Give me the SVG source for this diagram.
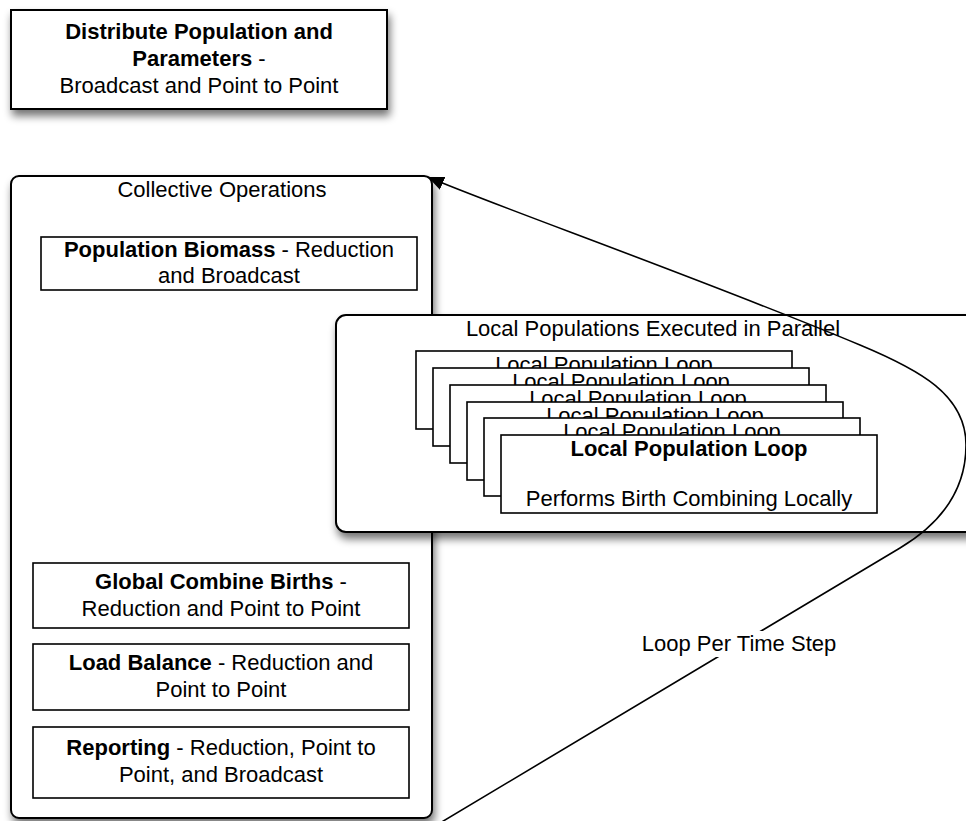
<svg xmlns="http://www.w3.org/2000/svg" width="966" height="821" viewBox="0 0 966 821">
  <style>
    text { font-family: "Liberation Sans", Arial, Helvetica, sans-serif; font-size: 22px; fill: #000; text-anchor: middle; }
    .b { font-weight: bold; }
    .box { fill: #fff; stroke: #000; stroke-width: 1.6; }
    .frame { fill: #fff; stroke: #000; stroke-width: 2; }
    .card { fill: #fff; stroke: #000; stroke-width: 1.6; }
    .link { fill: none; stroke: #000; stroke-width: 1.6; }
  </style>
  <defs>
    <filter id="shadow" x="-10%" y="-10%" width="125%" height="130%">
      <feGaussianBlur in="SourceAlpha" stdDeviation="4"/>
      <feOffset dx="2" dy="6" result="blur"/>
      <feComponentTransfer><feFuncA type="linear" slope="0.55"/></feComponentTransfer>
      <feMerge><feMergeNode/><feMergeNode in="SourceGraphic"/></feMerge>
    </filter>
    <marker id="arrow" markerUnits="userSpaceOnUse" markerWidth="20" markerHeight="16" refX="16" refY="7" orient="auto">
      <path d="M0,0 L16,7 L0,14 z" fill="#000"/>
    </marker>
  </defs>

  <!-- distribution step -->
  <g id="distribute">
    <rect class="frame" x="11" y="10" width="376" height="99" filter="url(#shadow)"/>
    <text x="199" y="39" class="b">Distribute Population and</text>
    <text x="199" y="66"><tspan class="b">Parameters</tspan> -</text>
    <text x="199" y="93">Broadcast and Point to Point</text>
  </g>

  <!-- collective operations container -->
  <g id="collective">
    <rect class="frame" x="11" y="176" width="421" height="642" rx="8" filter="url(#shadow)"/>
    <text x="222" y="197">Collective Operations</text>
  </g>

  <g id="biomass">
    <rect class="box" x="41" y="237" width="376" height="53"/>
    <text x="229" y="257"><tspan class="b">Population Biomass</tspan> - Reduction</text>
    <text x="229" y="283">and Broadcast</text>
  </g>

  <g id="combine-births">
    <rect class="box" x="33" y="563" width="376" height="65"/>
    <text x="221" y="589"><tspan class="b">Global Combine Births</tspan> -</text>
    <text x="221" y="616">Reduction and Point to Point</text>
  </g>

  <g id="load-balance">
    <rect class="box" x="33" y="644" width="376" height="66"/>
    <text x="221" y="670"><tspan class="b">Load Balance</tspan> - Reduction and</text>
    <text x="221" y="697">Point to Point</text>
  </g>

  <g id="reporting">
    <rect class="box" x="33" y="727" width="376" height="71"/>
    <text x="221" y="755"><tspan class="b">Reporting</tspan> - Reduction, Point to</text>
    <text x="221" y="782">Point, and Broadcast</text>
  </g>

  <!-- parallel local populations container -->
  <g id="local-populations">
    <rect class="frame" x="336" y="315" width="650" height="217" rx="10" filter="url(#shadow)"/>
    <text x="653" y="336">Local Populations Executed in Parallel</text>
  </g>

  <!-- stacked local population loops, back to front -->
  <g id="loop-1">
    <rect class="card" x="416" y="351" width="376" height="78"/>
    <text x="604" y="372">Local Population Loop</text>
  </g>
  <g id="loop-2">
    <rect class="card" x="433" y="368" width="376" height="78"/>
    <text x="621" y="389">Local Population Loop</text>
  </g>
  <g id="loop-3">
    <rect class="card" x="450" y="385" width="376" height="78"/>
    <text x="638" y="406">Local Population Loop</text>
  </g>
  <g id="loop-4">
    <rect class="card" x="467" y="402" width="376" height="78"/>
    <text x="655" y="423">Local Population Loop</text>
  </g>
  <g id="loop-5">
    <rect class="card" x="484" y="418" width="376" height="78"/>
    <text x="672" y="439">Local Population Loop</text>
  </g>
  <g id="loop-6">
    <rect class="card" x="501" y="435" width="376" height="78"/>
    <text x="689" y="456" class="b">Local Population Loop</text>
    <text x="689" y="506">Performs Birth Combining Locally</text>
  </g>

  <!-- time step loop connector -->
  <g id="connectors">
    <path class="link" marker-end="url(#arrow)"
          d="M440,823 L900,548 C940,524 966,490 966,445 C966,395 920,370 860,345 C700,278 490,204 428,177"/>
    <rect x="639" y="631" width="200" height="26" fill="#fff"/>
    <text x="739" y="651">Loop Per Time Step</text>
  </g>
</svg>
